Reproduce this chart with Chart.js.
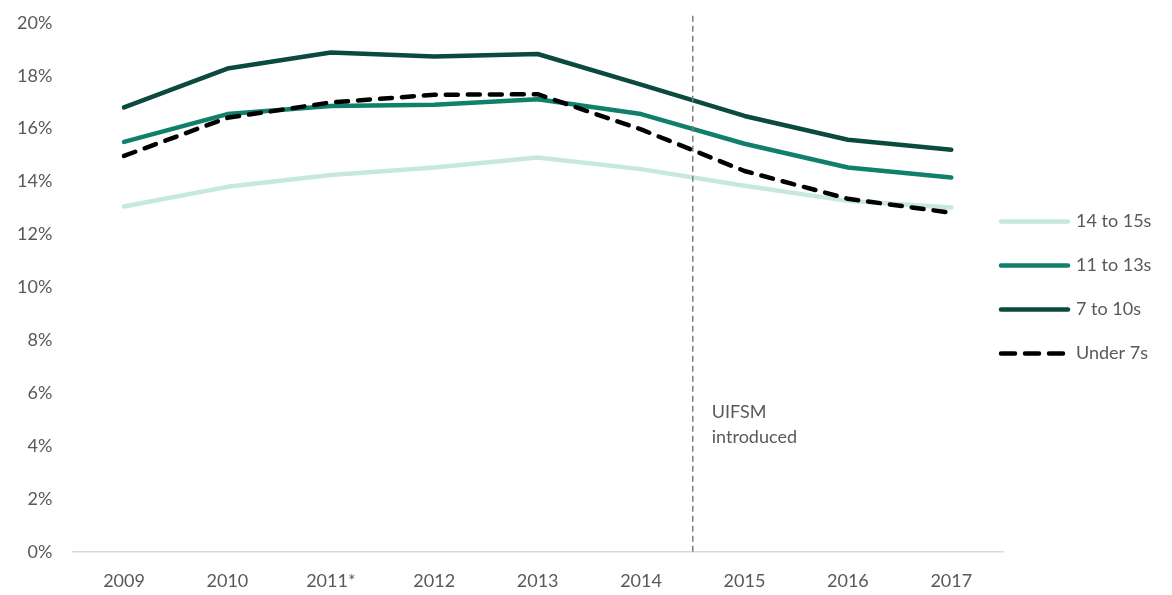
<!DOCTYPE html>
<html>
<head>
<meta charset="utf-8">
<script src="https://cdn.jsdelivr.net/npm/chart.js@4.4.1/dist/chart.umd.min.js"></script>
<style>
  html, body { margin: 0; padding: 0; background: #fff; }
  #wrap { width: 1172px; height: 595px; }
</style>
</head>
<body>
<div id="wrap"><canvas id="chart"></canvas></div>
<script>
var years = ["2009", "2010", "2011*", "2012", "2013", "2014", "2015", "2016", "2017"];
var teens14to15 = [13.06, 13.8, 14.25, 14.53, 14.91, 14.47, 13.84, 13.27, 13.02];
var ages11to13 = [15.5, 16.55, 16.86, 16.9, 17.11, 16.55, 15.43, 14.53, 14.15];
var ages7to10 = [16.8, 18.27, 18.88, 18.73, 18.82, 17.66, 16.48, 15.58, 15.2];
var under7 = [14.97, 16.41, 16.99, 17.28, 17.3, 15.97, 14.4, 13.35, 12.82];
var yTicks = [0, 2, 4, 6, 8, 10, 12, 14, 16, 18, 20];
var markerAfter = "2014";   // UIFSM line sits between this year and the next
var markerText = ["UIFSM", "introduced"];

var textGrey = "#595959";
var fontFamily = "Lato, 'Open Sans', sans-serif";

// dashed vertical marker + its label
var uifsmLine = {
    id: "uifsmLine",
    afterDatasetsDraw: function(chart) {
        var x = chart.scales.x;
        var i = years.indexOf(markerAfter);
        var px = (x.getPixelForValue(i) + x.getPixelForValue(i + 1)) / 2;
        var ctx = chart.ctx;
        ctx.save();
        ctx.strokeStyle = "#7f7f7f";
        ctx.lineWidth = 1.5;
        ctx.setLineDash([6, 4]);
        ctx.beginPath();
        ctx.moveTo(px, chart.chartArea.top - 7);
        ctx.lineTo(px, chart.chartArea.bottom);
        ctx.stroke();
        ctx.setLineDash([]);
        ctx.fillStyle = textGrey;
        ctx.font = "18px " + fontFamily;
        ctx.textBaseline = "middle";
        var y0 = chart.scales.y.getPixelForValue(5.3);
        markerText.forEach(function(t, k) {
            ctx.fillText(t, px + 19, y0 + k * 25);
        });
        ctx.restore();
    }
};

// legend on the right, drawn next to the plot like the original
var sideLegend = {
    id: "sideLegend",
    afterDraw: function(chart) {
        var ctx = chart.ctx;
        var area = chart.chartArea;
        var sets = chart.data.datasets;
        var gap = 44;
        var mid = (area.top + area.bottom) / 2;
        var top = mid - gap * (sets.length - 1) / 2;
        var x0 = area.right - 4;
        ctx.save();
        ctx.font = "18px " + fontFamily;
        ctx.textBaseline = "middle";
        sets.forEach(function(d, k) {
            var y = top + k * gap;
            var dashed = d.borderDash && d.borderDash.length;
            ctx.strokeStyle = d.borderColor;
            ctx.lineWidth = d.borderWidth;
            ctx.lineCap = "round";
            ctx.setLineDash(dashed ? [14, 10] : []);
            ctx.beginPath();
            ctx.moveTo(x0 + 2, y);
            ctx.lineTo(x0 + (dashed ? 66 : 69), y);
            ctx.stroke();
            ctx.setLineDash([]);
            ctx.fillStyle = textGrey;
            ctx.fillText(d.label, x0 + 77, y);
        });
        ctx.restore();
    }
};

function ds(label, data, color, order, dash) {
    return {
        label: label,
        data: data,
        borderColor: color,
        backgroundColor: color,
        borderWidth: 4.5,
        borderDash: dash || [],
        borderCapStyle: "round",
        borderJoinStyle: "round",
        pointRadius: 0,
        pointHoverRadius: 0,
        tension: 0,
        fill: false,
        order: order
    };
}

var ctx = document.getElementById("chart").getContext("2d");
new Chart(ctx, {
    type: "line",
    data: {
        labels: years,
        datasets: [
            ds("14 to 15s", teens14to15, "#c6e8e1", 4),
            ds("11 to 13s", ages11to13, "#10806c", 3),
            ds("7 to 10s", ages7to10, "#0b4a3f", 2),
            ds("Under 7s", under7, "#000000", 1, [12, 10])
        ]
    },
    options: {
        responsive: true,
        maintainAspectRatio: false,
        animation: false,
        layout: { padding: { top: 14, left: 5, right: 169, bottom: -7 } },
        plugins: {
            tooltip: { enabled: false },
            legend: { display: false }
        },
        scales: {
            x: {
                offset: true,
                grid: { display: false },
                border: { display: true, color: "#d9d9d9", width: 1.5 },
                ticks: {
                    color: textGrey,
                    padding: 12,
                    font: { family: fontFamily, size: 18, lineHeight: 1 },
                    maxRotation: 0
                }
            },
            y: {
                min: 0,
                max: 20,
                grid: { display: false },
                border: { display: false },
                afterBuildTicks: function(axis) {
                    axis.ticks = yTicks.map(function(v) { return { value: v }; });
                },
                ticks: {
                    color: textGrey,
                    padding: 12,
                    font: { family: fontFamily, size: 18 },
                    callback: function(v) { return v + "%"; }
                }
            }
        }
    },
    plugins: [uifsmLine, sideLegend]
});
</script>
</body>
</html>
